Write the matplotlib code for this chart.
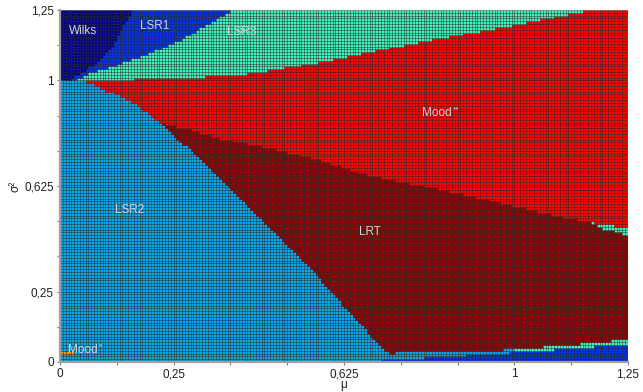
import numpy as np
import matplotlib
matplotlib.use("Agg")
import matplotlib.pyplot as plt
from matplotlib.colors import ListedColormap

plt.rcParams['font.family'] = ['Liberation Sans', 'DejaVu Sans']

# ---- region names and colours ----
regions = ["Wilks", "LSR1", "LSR3", "Mood**", "LSR2", "LRT", "Mood*"]
region_colors = ["#00008c", "#0030e8", "#40f4bc", "#ff0000", "#06a6ec", "#900000", "#ff8c00"]

# ---- boundary curves ----
# Wilks / LSR1 (mu as function of sigma^2, sigma^2 >= 1)
wilks_s = [1.0, 1.008, 1.037, 1.108, 1.25]
wilks_mu = [0.026, 0.026, 0.059, 0.110, 0.159]
# LSR1 / LSR3
lsr1_s = [1.0, 1.019, 1.048, 1.108, 1.143, 1.25]
lsr1_mu = [0.033, 0.051, 0.110, 0.214, 0.264, 0.379]
# top of Mood** (sigma^2 as function of mu)
redtop_mu = [0.040, 0.264, 0.419, 0.557, 0.778, 0.998, 1.163, 1.25]
redtop_s = [1.0, 1.009, 1.026, 1.061, 1.133, 1.197, 1.25, 1.26]
# LSR2 upper edge
lsr2_mu = [0.0, 0.026, 0.059, 0.154, 0.205, 0.220, 0.280, 0.374, 0.441, 0.529,
           0.617, 0.654, 0.689, 0.720, 0.736]
lsr2_s = [1.0, 1.0, 0.995, 0.930, 0.870, 0.849, 0.763, 0.618, 0.511, 0.373,
          0.213, 0.149, 0.085, 0.036, 0.032]
# Mood** lower edge and LRT upper edge
mid_mu = [0.220, 0.280, 0.352, 0.425, 0.500, 0.573, 0.676, 0.822, 0.969, 1.117, 1.170, 1.183, 1.25]
moodlow_s = [0.849, 0.827, 0.795, 0.771, 0.746, 0.717, 0.664, 0.618, 0.565, 0.511, 0.496, 0.492, 0.478]
lrttop_s = [0.849, 0.827, 0.795, 0.771, 0.746, 0.717, 0.664, 0.618, 0.565, 0.511, 0.496, 0.482, 0.448]
# LRT lower edge
lrtbot_mu = [0.736, 0.925, 1.002, 1.064, 1.123, 1.174, 1.218, 1.251]
lrtbot_s = [0.036, 0.039, 0.048, 0.055, 0.062, 0.069, 0.076, 0.080]
# LSR1 band along the bottom (upper edge)
blue_mu = [0.667, 0.749, 0.837, 0.930, 1.002, 1.064, 1.123, 1.174, 1.218, 1.251]
blue_s = [0.0, 0.011, 0.018, 0.030, 0.036, 0.043, 0.048, 0.055, 0.058, 0.060]
# Mood* strip
moodstar_mu = [0.0, 0.033]
moodstar_s = [0.028, 0.042]

# ---- axis ticks ----
major_ticks = [0, 0.25, 0.625, 1, 1.25]
major_labels = ["0", "0,25", "0,625", "1", "1,25"]
minor_ticks = [0.125, 0.375, 0.5, 0.75, 0.875, 1.125]

# ---- text labels (name, mu, sigma^2) ----
label_text = ["Wilks", "LSR1", "LSR3", "Mood", "LSR2", "LRT", "Mood"]
label_sup = ["", "", "", "**", "", "", "*"]
label_mu = [0.051, 0.209, 0.399, 0.830, 0.154, 0.681, 0.051]
label_s = [1.175, 1.193, 1.172, 0.884, 0.540, 0.462, 0.043]

# ---- build category grid ----
nx, ny = 200, 125
xe = np.linspace(0, 1.25, nx + 1)
ye = np.linspace(0, 1.25, ny + 1)
xc = 0.5 * (xe[:-1] + xe[1:])
yc = 0.5 * (ye[:-1] + ye[1:])
M, S = np.meshgrid(xc, yc)

wil = np.interp(S, wilks_s, wilks_mu)
l1 = np.interp(S, lsr1_s, lsr1_mu)
rtop = np.interp(M, redtop_mu, redtop_s)
l2 = np.interp(M, lsr2_mu, lsr2_s, right=-1.0)
mlow = np.interp(M, mid_mu, moodlow_s)
ltop = np.interp(M, mid_mu, lrttop_s)
lbot = np.interp(M, lrtbot_mu, lrtbot_s, left=-1.0)
btop = np.interp(M, blue_mu, blue_s, left=-1.0)

upper = S >= 1.0
cond_up = [(M >= redtop_mu[0]) & (S < rtop), M < wil, M < l1]
cat_up = np.select(cond_up, [3, 0, 1], default=2)
cond_lo = [
    S < btop,
    (M >= lrtbot_mu[0]) & (S < lbot) & (M >= 1.0),
    (M >= lrtbot_mu[0]) & (S < lbot),
    S < l2,
    M < mid_mu[0],
    S >= mlow,
    S >= ltop,
]
cat_lo = np.select(cond_lo, [1, 2, 4, 4, 3, 3, 2], default=5)
cat = np.where(upper, cat_up, cat_lo)
star = (M >= moodstar_mu[0]) & (M <= moodstar_mu[1]) & (S >= moodstar_s[0]) & (S <= moodstar_s[1])
cat = np.where(star, 6, cat)

# ---- draw ----
fig = plt.figure(figsize=(6.43, 3.92), dpi=100)
ax = fig.add_axes([60 / 643, 30 / 392, 568 / 643, 352 / 392])
cmap = ListedColormap(region_colors)
ax.pcolormesh(xe, ye, cat, cmap=cmap, vmin=-0.5, vmax=len(regions) - 0.5,
              edgecolors=(0, 0, 0, 0.5), linewidth=0.45, antialiased=True)
ax.set_xlim(0, 1.25)
ax.set_ylim(0, 1.25)

for t, sup, m, s in zip(label_text, label_sup, label_mu, label_s):
    txt = ax.text(m, s, t, color="#d4d4d4", fontsize=8.5, ha="center", va="center")
    if sup:
        ax.annotate(sup, xy=(1, 1), xycoords=txt, xytext=(0.5, -2), textcoords="offset points",
                    color="#d4d4d4", fontsize=6, ha="left", va="center")

ax.set_xticks(major_ticks)
ax.set_xticklabels(major_labels)
ax.set_yticks(major_ticks)
ax.set_yticklabels(major_labels)
ax.set_xticks(minor_ticks, minor=True)
ax.set_yticks(minor_ticks, minor=True)
ax.tick_params(which="both", length=2.5, width=0.8, color="#808080", labelsize=8.5,
               labelcolor="#202020", pad=2)
for side in ["top", "right"]:
    ax.spines[side].set_visible(False)
for side in ["left", "bottom"]:
    ax.spines[side].set_color("#a0a0a0")
    ax.spines[side].set_linewidth(1.6)

ax.set_xlabel("μ", fontsize=8.5, labelpad=-1, color="#202020")
ax.set_ylabel("σ²", fontsize=8.5, labelpad=2, color="#202020")

fig.savefig("out.png", dpi=100)
